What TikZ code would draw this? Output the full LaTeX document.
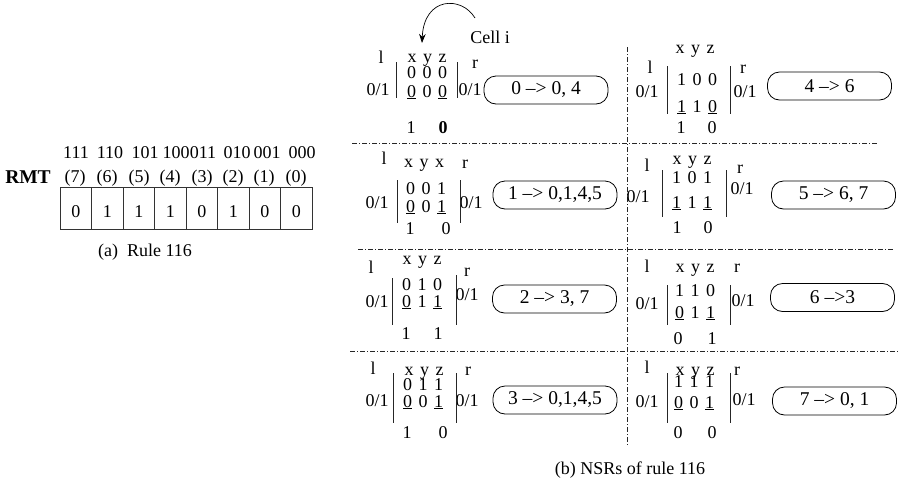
\documentclass[tikz,border=0pt]{standalone}
\usepackage{fontspec}
\setmainfont{Liberation Serif}
\usetikzlibrary{arrows.meta}
\newcommand{\fsz}{\fontsize{18}{21}\selectfont}
\newcommand{\fbx}{\fontsize{19.5}{23}\selectfont}
\newcommand{\ul}[1]{\underline{#1}}
\newcommand{\gp}{\hspace{6.5pt}}
\begin{document}
\begin{tikzpicture}[x=1pt,y=-1pt,
  t/.style={inner sep=0pt, font=\fsz, text height=12.2pt, text depth=0pt},
  bar/.style={line width=0.6pt, draw=black!85},
  ddash/.style={line width=0.6pt, draw=black!85, dash pattern=on 5pt off 2pt on 1pt off 2pt},
  rbox/.style={draw, line width=0.8pt, rounded corners=12pt, minimum width=124pt, minimum height=28pt, inner sep=0pt, font=\fbx},
  cellbox/.style={draw=black!80, line width=0.7pt, minimum width=31.5pt, minimum height=42pt, inner sep=0pt, font=\fsz, text height=19pt, text depth=0pt}
]
\useasboundingbox (0,0) rectangle (905,485);

% ---------------- (a) RMT table ----------------
\node[t, font=\fontsize{19.5}{23}\selectfont\bfseries] (rmt) at (28,177) {RMT};
\foreach \i/\x/\lab in {7/76/111, 6/110/110, 5/145/101, 4/176/100, 3/203/011, 2/237/010, 1/267/001, 0/302/000}
  \node[t] (bin\i) at (\x,152) {\lab};
\foreach \i/\x in {7/75, 6/107, 5/139, 4/170, 3/202, 2/233, 1/264, 0/296}
  \node[t] (par\i) at (\x,176) {(\i)};
\foreach \i/\v [count=\k from 0] in {7/0, 6/1, 5/1, 4/1, 3/0, 2/1, 1/0, 0/0}
  \node[cellbox] (cell\i) at (75.75+31.5*\k,208) {\v};
\node[t] (capa) at (145,250) {(a)\ \ Rule 116};

% ---------------- dash-dot separators ----------------
\coordinate (v1) at (627,47);  \coordinate (v2) at (627,445);
\coordinate (h1a) at (352,143); \coordinate (h1b) at (878,143);
\coordinate (h2a) at (358,249); \coordinate (h2b) at (893,249);
\coordinate (h3a) at (350,351); \coordinate (h3b) at (898,351);
\draw[ddash] (v1) -- (v2);
\draw[ddash] (h1a) -- (h1b);
\draw[ddash] (h2a) -- (h2b);
\draw[ddash] (h3a) -- (h3b);

% ---------------- Block A (0) ----------------
\node[t] (A-l) at (381,57) {l};
\node[t] (A-h) at (427,56) {x\gp y\gp z};
\node[t] (A-r) at (475,62) {r};
\node[t] (A-ra) at (427,72) {0\gp 0\gp 0};
\node[t] (A-rb) at (427,91) {\ul{0}\gp 0\gp \ul{0}};
\node[t] (A-lo) at (378,89) {0/1};
\node[t] (A-ro) at (470,89) {0/1};
\coordinate (A-b1) at (396,62); \coordinate (A-b2) at (396,98);
\coordinate (A-b3) at (457,62); \coordinate (A-b4) at (457,98);
\draw[bar] (A-b1) -- (A-b2); \draw[bar] (A-b3) -- (A-b4);
\node[t] (A-o1) at (411,127) {1};
\node[t] (A-o2) at (443,127) {\textbf{0}};
\node[rbox] (A-box) at (546,90) {0 --> 0, 4};
\node[t] (celli) at (490,37) {Cell i};
\coordinate (arcS) at (475,18); \coordinate (arcE) at (422,43);
\draw[line width=0.7pt, -{Stealth[length=9pt,width=6.5pt]}] (arcS) .. controls (462,-4) and (424,-4) .. (arcE);

% ---------------- Block B (4) ----------------
\node[t] (B-h) at (695,47) {x\gp y\gp z};
\node[t] (B-l) at (650,67) {l};
\node[t] (B-r) at (743,67) {r};
\node[t] (B-ra) at (697,79) {1\gp 0\gp 0};
\node[t] (B-rb) at (697,106) {\ul{1}\gp 1\gp \ul{0}};
\node[t] (B-lo) at (647,91) {0/1};
\node[t] (B-ro) at (745,91) {0/1};
\coordinate (B-b1) at (667,66); \coordinate (B-b2) at (667,114);
\coordinate (B-b3) at (730,66); \coordinate (B-b4) at (730,114);
\draw[bar] (B-b1) -- (B-b2); \draw[bar] (B-b3) -- (B-b4);
\node[t] (B-o1) at (681,127) {1};
\node[t] (B-o2) at (712,127) {0};
\node[rbox] (B-box) at (829.5,86) {4 --> 6};

% ---------------- Block C (1) ----------------
\node[t] (C-l) at (384,158) {l};
\node[t] (C-h) at (424,161) {x\gp y\gp x};
\node[t] (C-r) at (465,162) {r};
\node[t] (C-ra) at (426,188) {0\gp 0\gp 1};
\node[t] (C-rb) at (426,206) {\ul{0}\gp 0\gp \ul{1}};
\node[t] (C-lo) at (377,202) {0/1};
\node[t] (C-ro) at (471,202) {0/1};
\coordinate (C-b1) at (397,180); \coordinate (C-b2) at (397,223);
\coordinate (C-b3) at (460,180); \coordinate (C-b4) at (460,223);
\draw[bar] (C-b1) -- (C-b2); \draw[bar] (C-b3) -- (C-b4);
\node[t] (C-o1) at (410,228) {1};
\node[t] (C-o2) at (446,228) {0};
\node[rbox] (C-box) at (555,195) {1 --> 0,1,4,5};

% ---------------- Block D (5) ----------------
\node[t] (D-h) at (692,158) {x\gp y\gp z};
\node[t] (D-l) at (647,165) {l};
\node[t] (D-r) at (740,167) {r};
\node[t] (D-ra) at (692,177) {1\gp 0\gp 1};
\node[t] (D-rb) at (692,202) {\ul{1}\gp 1\gp \ul{1}};
\node[t] (D-lo) at (638,196) {0/1};
\node[t] (D-ro) at (742,188) {0/1};
\coordinate (D-b1) at (662,170); \coordinate (D-b2) at (662,217);
\coordinate (D-b3) at (726,170); \coordinate (D-b4) at (726,217);
\draw[bar] (D-b1) -- (D-b2); \draw[bar] (D-b3) -- (D-b4);
\node[t] (D-o1) at (677,227) {1};
\node[t] (D-o2) at (708,227) {0};
\node[rbox] (D-box) at (833.5,195) {5 --> 6, 7};

% ---------------- Block E (2) ----------------
\node[t] (E-l) at (371,267) {l};
\node[t] (E-h) at (422,258) {x\gp y\gp z};
\node[t] (E-r) at (467,270) {r};
\node[t] (E-ra) at (422,284) {0\gp 1\gp 0};
\node[t] (E-rb) at (422,301) {\ul{0}\gp 1\gp \ul{1}};
\node[t] (E-lo) at (377,301) {0/1};
\node[t] (E-ro) at (467,294) {0/1};
\coordinate (E-b1) at (392,278); \coordinate (E-b2) at (392,325);
\coordinate (E-b3) at (456,275); \coordinate (E-b4) at (456,325);
\draw[bar] (E-b1) -- (E-b2); \draw[bar] (E-b3) -- (E-b4);
\node[t] (E-o1) at (406,333) {1};
\node[t] (E-o2) at (438,333) {1};
\node[rbox] (E-box) at (554.5,299) {2 --> 3, 7};

% ---------------- Block F (6) ----------------
\node[t] (F-l) at (647,266) {l};
\node[t] (F-h) at (695,266) {x\gp y\gp z};
\node[t] (F-r) at (737,266) {r};
\node[t] (F-ra) at (695,290) {1\gp 1\gp 0};
\node[t] (F-rb) at (695,312) {\ul{0}\gp 1\gp \ul{1}};
\node[t] (F-lo) at (647,303) {0/1};
\node[t] (F-ro) at (743,300) {0/1};
\coordinate (F-b1) at (667,285); \coordinate (F-b2) at (667,325);
\coordinate (F-b3) at (730,285); \coordinate (F-b4) at (730,325);
\draw[bar] (F-b1) -- (F-b2); \draw[bar] (F-b3) -- (F-b4);
\node[t] (F-o1) at (678,338) {0};
\node[t] (F-o2) at (712,338) {1};
\node[rbox] (F-box) at (832.5,297.5) {6 -->3};

% ---------------- Block G (3) ----------------
\node[t] (G-l) at (373,368) {l};
\node[t] (G-h) at (424,369) {x\gp y\gp z};
\node[t] (G-r) at (468,369) {r};
\node[t] (G-ra) at (423,384) {0\gp 1\gp 1};
\node[t] (G-rb) at (423,401) {\ul{0}\gp 0\gp \ul{1}};
\node[t] (G-lo) at (377,400) {0/1};
\node[t] (G-ro) at (467,400) {0/1};
\coordinate (G-b1) at (393,373); \coordinate (G-b2) at (393,423);
\coordinate (G-b3) at (456,373); \coordinate (G-b4) at (456,423);
\draw[bar] (G-b1) -- (G-b2); \draw[bar] (G-b3) -- (G-b4);
\node[t] (G-o1) at (407,432) {1};
\node[t] (G-o2) at (443,432) {0};
\node[rbox] (G-box) at (555,400) {3 --> 0,1,4,5};

% ---------------- Block H (7) ----------------
\node[t] (H-l) at (647,367) {l};
\node[t] (H-h) at (695,369) {x\gp y\gp z};
\node[t] (H-r) at (737,369) {r};
\node[t] (H-ra) at (694,381) {1\gp 1\gp 1};
\node[t] (H-rb) at (694,402) {\ul{0}\gp 0\gp \ul{1}};
\node[t] (H-lo) at (647,401) {0/1};
\node[t] (H-ro) at (744,399) {0/1};
\coordinate (H-b1) at (667,373); \coordinate (H-b2) at (667,423);
\coordinate (H-b3) at (730,373); \coordinate (H-b4) at (730,423);
\draw[bar] (H-b1) -- (H-b2); \draw[bar] (H-b3) -- (H-b4);
\node[t] (H-o1) at (678,432) {0};
\node[t] (H-o2) at (712,432) {0};
\node[rbox] (H-box) at (834.5,401) {7 --> 0, 1};

\node[t] (capb) at (630,468) {(b) NSRs of rule 116};
\end{tikzpicture}
\end{document}
